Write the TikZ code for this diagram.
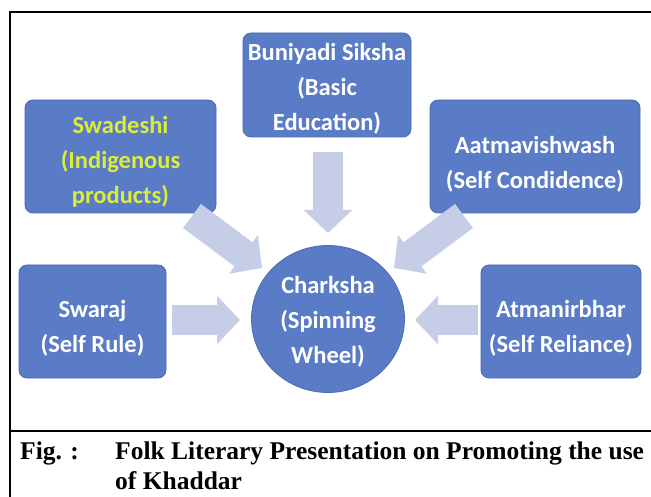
\documentclass[tikz,border=0pt]{standalone}
\usepackage{fontspec}
\setmainfont{Liberation Serif}
\newfontfamily\boxfont{Carlito}
\usetikzlibrary{arrows.meta,shapes.geometric}
\definecolor{boxblue}{HTML}{5A7CC6}
\definecolor{boxedge}{HTML}{4A6BB2}
\definecolor{arrowgray}{HTML}{C6CEE7}
\definecolor{swyellow}{HTML}{DCEC3A}
\begin{document}
\begin{tikzpicture}[x=1pt,y=-1pt,
  box/.style={draw=boxedge, line width=0.8pt, fill=boxblue, rounded corners=8pt, inner sep=0pt},
  boxtext/.style={text=white, font=\boxfont\bfseries\fontsize{24.5}{35}\selectfont, align=center, inner sep=0pt},
  hub/.style={draw=boxedge, line width=0.8pt, fill=boxblue, ellipse, inner sep=0pt},
  flow/.style={draw=arrowgray, line width=30pt,
    -{Triangle[width=47pt,length=23pt]}},
  captext/.style={font=\bfseries\fontsize{25.5}{30}\selectfont, inner sep=0pt, anchor=base west}]
\useasboundingbox (0,0) rectangle (651,497);
\fill[white] (0,0) rectangle (651,497);
% frame
\draw[line width=2pt] (10,520) -- (10,12) -- (670,12);
\draw[line width=2pt] (10,431) -- (670,431);
% boxes
\node[box, minimum width=168pt, minimum height=104pt] (bun) at (327,85) {};
\node[box, minimum width=191pt, minimum height=113pt] (swa) at (120.5,156.5) {};
\node[box, minimum width=210pt, minimum height=113pt] (aat) at (535,156.5) {};
\node[box, minimum width=147pt, minimum height=113pt] (swr) at (92.5,321.5) {};
\node[box, minimum width=160pt, minimum height=113pt] (atm) at (561,321.5) {};
\node[hub, minimum width=153pt, minimum height=147pt] (hub) at (328,319) {};
% box texts
\node[boxtext] (bunt) at ([yshift=-4pt]bun.center) {Buniyadi Siksha\\(Basic\\Education)};
\node[boxtext, text=swyellow] (swat) at ([yshift=-5pt]swa.center) {Swadeshi\\(Indigenous\\products)};
\node[boxtext] (aatt) at ([yshift=-8pt]aat.center) {Aatmavishwash\\(Self Condidence)};
\node[boxtext] (swrt) at ([yshift=-7pt]swr.center) {Swaraj\\(Self Rule)};
\node[boxtext] (atmt) at ([yshift=-7pt]atm.center) {Atmanirbhar\\(Self Reliance)};
\node[boxtext] (hubt) at ([yshift=-3pt]hub.center) {Charksha\\(Spinning\\Wheel)};
% arrow ends
\coordinate (a1s) at (328,152);
\coordinate (a1e) at (328,233);
\coordinate (a2s) at (192,216);
\coordinate (a2e) at (262,268);
\coordinate (a3s) at (464,216);
\coordinate (a3e) at (394,268);
\coordinate (a4s) at (172,320);
\coordinate (a4e) at (240,320);
\coordinate (a5s) at (478,320);
\coordinate (a5e) at (415,320);
\draw[flow] (a1s) -- (a1e);
\draw[flow] (a2s) -- (a2e);
\draw[flow] (a3s) -- (a3e);
\draw[flow] (a4s) -- (a4e);
\draw[flow] (a5s) -- (a5e);
% caption
\node[captext] (fig) at (20,459) {Fig. :};
\node[captext] (cap1) at (115,459) {Folk Literary Presentation on Promoting the use};
\node[captext] (cap2) at (115,489) {of Khaddar};
\end{tikzpicture}
\end{document}
